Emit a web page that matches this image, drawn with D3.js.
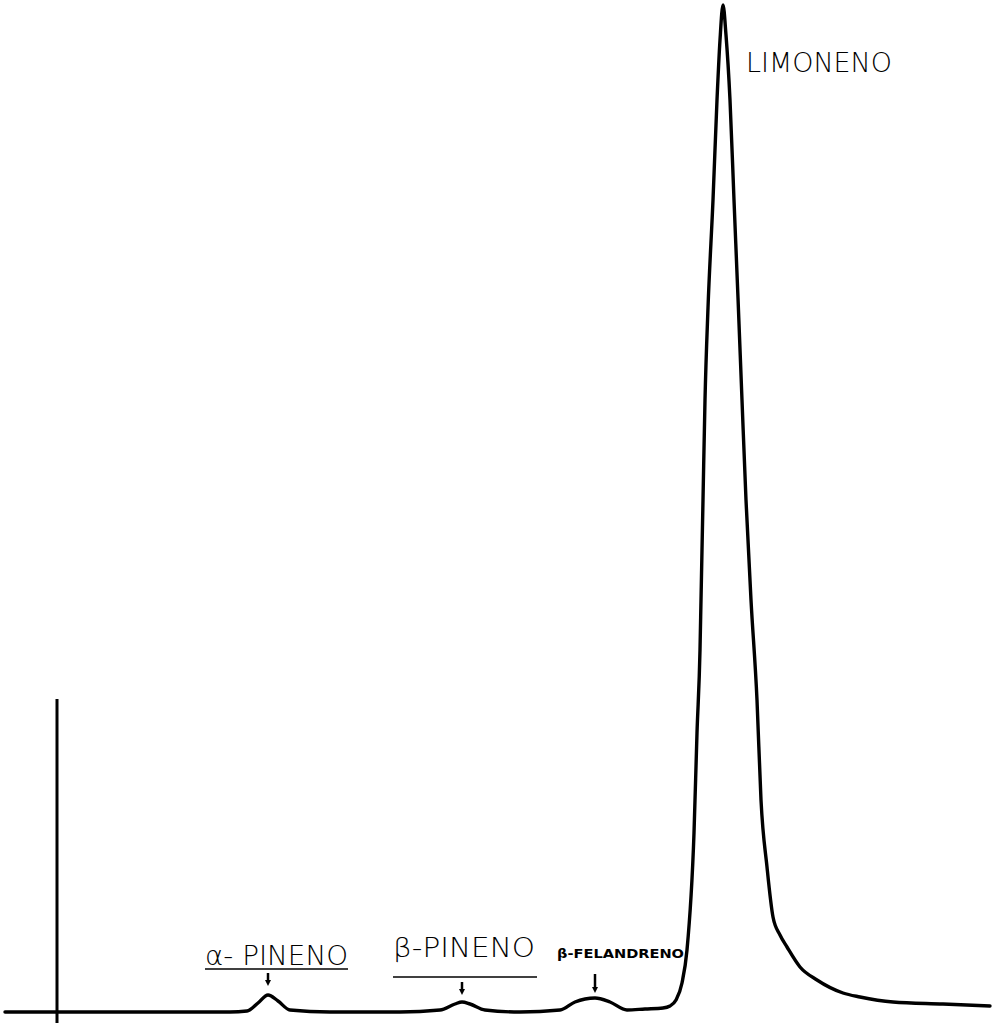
<!DOCTYPE html>
<html>
<head>
<meta charset="utf-8">
<script src="https://cdn.jsdelivr.net/npm/d3@7"></script>
<style>
  html, body { margin: 0; padding: 0; background: #fff; }
  svg { display: block; }
</style>
</head>
<body>
<svg id="chart" width="999" height="1025"></svg>
<script>
// Retention (chart units) and detector signal (% of full scale)
const time = [0.5, 5.7, 15, 23, 24.7, 25.8, 26.8, 27.8, 29, 33, 40, 44, 45.5, 46.2, 47, 48.5, 52,
  56, 57.5, 59.5, 61, 62.7, 64.5, 66.3, 67.0, 67.6, 68.2, 68.7, 69.4, 69.7, 70.0, 70.1, 70.3, 70.5, 70.8,
  71.3, 71.7, 72.0, 72.3, 72.6, 73.0, 73.4, 73.8, 74.2, 74.6, 75.1, 75.7, 76.1, 76.7, 77.3, 78.0, 78.7,
  80.0, 81.7, 84.3, 86, 89.3, 94.3, 99];
const signal = [0, 0, 0, 0, 0.1, 0.9, 1.7, 1.1, 0.2, 0, 0, 0.2, 0.8, 1.0, 0.8, 0.2, 0,
  0.2, 1.0, 1.4, 1.0, 0.2, 0.3, 0.4, 0.6, 1.2, 2.9, 6.2, 17.9, 27.9, 36.2, 41.2, 51.2, 61.2, 70.4,
  81.2, 91.2, 97.2, 100.7, 97.7, 91.2, 81.2, 71.4, 61.2, 51.2, 41.2, 31.2, 21.2, 14.5, 9.5, 7.7, 6.5,
  4.5, 3.2, 1.9, 1.5, 1.0, 0.8, 0.6];

// Injection mark
const injectTime = 5.7;
const injectRange = [31.3, -1.1];

// Peak annotations
const peakNames = ["α- PINENO", "β-PINENO", "β-FELANDRENO", "LIMONENO"];
const peakTimes = [26.8, 46.2, 59.5, 72.3];

const svg = d3.select("#chart");
const x = d3.scaleLinear().domain([0, 100]).range([0, 1000]);
const y = d3.scaleLinear().domain([0, 100]).range([1012, 12]);

const pts = time.map((t, i) => [t, signal[i]]);
const line = d3.line().x(d => x(d[0])).y(d => y(d[1])).curve(d3.curveMonotoneX);

svg.append("path").datum(pts)
  .attr("d", line)
  .attr("fill", "none").attr("stroke", "#000")
  .attr("stroke-width", 3.4).attr("stroke-linejoin", "round").attr("stroke-linecap", "round");

// injection marker
svg.append("line")
  .attr("x1", x(injectTime)).attr("x2", x(injectTime))
  .attr("y1", y(injectRange[0])).attr("y2", y(injectRange[1]))
  .attr("stroke", "#000").attr("stroke-width", 3);

const font = "'DejaVu Sans', 'Liberation Sans', sans-serif";

function arrow(px, y1, y2, w) {
  svg.append("line").attr("x1", px).attr("x2", px).attr("y1", y1).attr("y2", y2 - 3)
    .attr("stroke", "#000").attr("stroke-width", w);
  svg.append("path")
    .attr("d", `M${px - 3},${y2 - 5} L${px + 3},${y2 - 5} L${px},${y2 + 1} Z`)
    .attr("fill", "#000");
}

// α-PINENO
svg.append("text").attr("x", x(peakTimes[0]) - 63).attr("y", 965)
  .attr("font-family", font).attr("font-size", 27).attr("font-weight", 300)
  .attr("textLength", 143).attr("lengthAdjust", "spacingAndGlyphs")
  .text(peakNames[0]);
svg.append("line").attr("x1", x(peakTimes[0]) - 63).attr("x2", x(peakTimes[0]) + 80)
  .attr("y1", 969).attr("y2", 969).attr("stroke", "#000").attr("stroke-width", 1.5);
arrow(x(peakTimes[0]), 973, 985, 2.5);

// β-PINENO
svg.append("text").attr("x", x(peakTimes[1]) - 69).attr("y", 957)
  .attr("font-family", font).attr("font-size", 27).attr("font-weight", 300)
  .attr("textLength", 142).attr("lengthAdjust", "spacingAndGlyphs")
  .text(peakNames[1]);
svg.append("line").attr("x1", x(peakTimes[1]) - 69).attr("x2", x(peakTimes[1]) + 75)
  .attr("y1", 977).attr("y2", 977).attr("stroke", "#000").attr("stroke-width", 1.5);
arrow(x(peakTimes[1]), 982, 994, 2.5);

// β-FELANDRENO
svg.append("text").attr("x", x(peakTimes[2]) - 38).attr("y", 958)
  .attr("font-family", font).attr("font-size", 13).attr("font-weight", "bold")
  .attr("textLength", 127).attr("lengthAdjust", "spacingAndGlyphs")
  .text(peakNames[2]);
arrow(x(peakTimes[2]), 974, 992, 2.5);

// LIMONENO
svg.append("text").attr("x", x(peakTimes[3]) + 23).attr("y", 72)
  .attr("font-family", font).attr("font-size", 26).attr("font-weight", 300)
  .attr("textLength", 146).attr("lengthAdjust", "spacingAndGlyphs")
  .text(peakNames[3]);
</script>
</body>
</html>
